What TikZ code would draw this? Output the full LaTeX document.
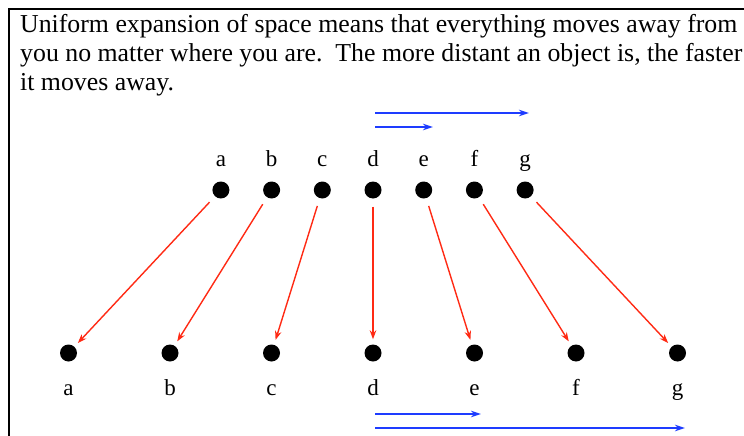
\documentclass[tikz,border=0pt]{standalone}
\usepackage{fontspec}
\setmainfont{Liberation Serif}
\usepackage{tikz}
\usetikzlibrary{positioning, arrows.meta}
\definecolor{Flame}{HTML}{FF2A14}
\definecolor{Azure}{HTML}{1E3CFF}

\begin{document}
\begin{tikzpicture}[x=1pt, y=-1pt,
    dot/.style={circle, fill=black, minimum size=17pt, inner sep=0pt},
    letter/.style={font=\fontsize{23}{27}\selectfont, inner sep=0pt},
    moves/.style={draw=Flame, line width=1.4pt, -{Stealth[length=9pt, width=6.5pt]},
                  shorten <=8pt, shorten >=5pt},
    speed/.style={draw=Azure, line width=1.8pt, -{Stealth[length=10pt, width=6.5pt]}}]
\useasboundingbox (0,0) rectangle (744,436);
% frame, open at the right and bottom
\draw[line width=2pt] (9,436) -- (9,9) -- (744,9);
\node[anchor=north west, align=left, inner sep=0pt,
      font=\fontsize{25.8}{29}\selectfont] (caption) at (20,14) {%
    Uniform expansion of space means that everything moves away from\\
    you no matter where you are.\ \ The more distant an object is, the faster\\
    it moves away.};
% positions before and after
\foreach \name [count=\i] in {a,b,c,d,e,f,g} {
    \node[dot] (top\name) at ({373+(\i-4)*50.7}, 190) {};
    \node[letter, anchor=base] (toplabel\name) at ({373+(\i-4)*50.7}, 166) {\name};
    \node[dot] (bot\name) at ({373+(\i-4)*101.5}, 353) {};
    \node[letter, anchor=base] (botlabel\name) at ({373+(\i-4)*101.5}, 395) {\name};
    \draw[moves] (top\name) -- (bot\name);
}
% how far d sees e and g move
\coordinate (topstart1) at (375,113);
\coordinate (topend1) at (529,113);
\coordinate (topstart2) at (375,127);
\coordinate (topend2) at (433,127);
\coordinate (botstart1) at (375,414);
\coordinate (botend1) at (481,414);
\coordinate (botstart2) at (375,428);
\coordinate (botend2) at (685,428);
\draw[speed] (topstart1) -- (topend1);
\draw[speed] (topstart2) -- (topend2);
\draw[speed] (botstart1) -- (botend1);
\draw[speed] (botstart2) -- (botend2);
\end{tikzpicture}
\end{document}
